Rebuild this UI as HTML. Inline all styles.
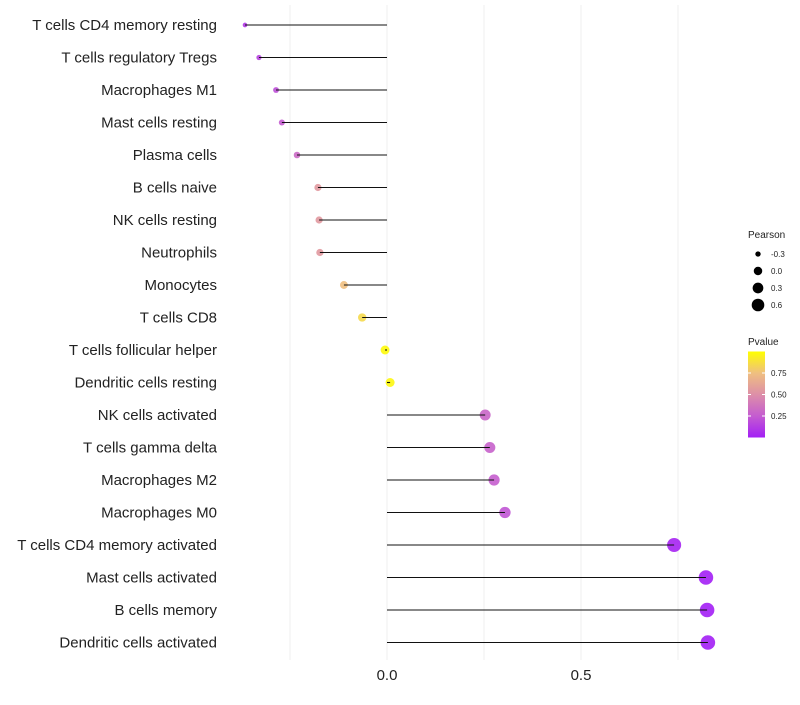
<!DOCTYPE html>
<html><head><meta charset="utf-8"><style>
body{margin:0;background:#fff}
svg{font-family:"Liberation Sans",sans-serif}
</style></head><body>
<svg id="chart" width="800" height="700">
<g id="grid"></g><g id="marks"></g><g id="labels"></g><g id="legend"></g>
</svg>
<script>
const categories=["T cells CD4 memory resting","T cells regulatory  Tregs","Macrophages M1","Mast cells resting","Plasma cells","B cells naive","NK cells resting","Neutrophils","Monocytes","T cells CD8","T cells follicular helper","Dendritic cells resting","NK cells activated","T cells gamma delta","Macrophages M2","Macrophages M0","T cells CD4 memory activated","Mast cells activated","B cells memory","Dendritic cells activated"];
const pearson=[-0.366,-0.330,-0.286,-0.271,-0.232,-0.178,-0.175,-0.173,-0.111,-0.064,-0.005,0.008,0.253,0.265,0.276,0.304,0.740,0.822,0.825,0.827];
const pvalues=[0.10,0.15,0.20,0.25,0.32,0.55,0.55,0.55,0.75,0.85,0.98,0.97,0.30,0.28,0.26,0.22,0.02,0.0,0.0,0.0];
const xTicks=[0,0.5];
const xTickLabels=["0.0","0.5"];
const gridVals=[-0.25,0.25,0.75];
const sizeLegend=[-0.3,0,0.3,0.6];
const sizeLegendLabels=["-0.3","0.0","0.3","0.6"];
const pLegend=[0.25,0.5,0.75];
const pLegendLabels=["0.25","0.50","0.75"];

const NS="http://www.w3.org/2000/svg";
const x=v=>387+v*388;
const y=i=>25+i*32.5;
const r=v=>Math.sqrt(Math.max(3,20+40*v));
const stops=[[0,[163,31,245]],[0.25,[196,92,208]],[0.5,[221,143,168]],[0.75,[239,191,128]],[1,[255,255,0]]];
function col(p){for(let k=0;k<stops.length-1;k++){const a=stops[k],b=stops[k+1];if(p<=b[0]){const t=(p-a[0])/(b[0]-a[0]);return "rgb("+a[1].map((c,j)=>Math.round(c+(b[1][j]-c)*t)).join(",")+")";}}return "rgb(255,255,0)";}
function mk(t,attrs,parent){const e=document.createElementNS(NS,t);for(const k in attrs)e.setAttribute(k,attrs[k]);parent.appendChild(e);return e;}
const G=document.getElementById("grid"),M=document.getElementById("marks"),L=document.getElementById("labels"),LG=document.getElementById("legend");
gridVals.concat(xTicks).forEach(v=>{const l=mk("line",{x1:x(v),x2:x(v),y1:5,y2:660,stroke:"#efefef","stroke-width":1},G);

});
xTicks.forEach((v,i)=>{const t=mk("text",{x:x(v),y:680,"text-anchor":"middle","font-size":15,fill:"#222"},L);t.textContent=xTickLabels[i];

});
categories.forEach((c,i)=>{
 const t=mk("text",{x:217,y:y(i)+5,"text-anchor":"end","font-size":15,fill:"#222"},L);t.textContent=c;
 
 
 const ci=mk("circle",{cx:x(pearson[i]),cy:y(i),r:r(pearson[i]),fill:col(pvalues[i]),"fill-opacity":0.9},M);
 
 
 const ln=mk("line",{x1:x(0),x2:x(pearson[i]),y1:y(i),y2:y(i),stroke:"#111","stroke-width":1.1},M);
 
 
});
let t=mk("text",{x:748,y:238,"font-size":10,fill:"#222"},LG);t.textContent="Pearson";


sizeLegend.forEach((v,i)=>{const c=mk("circle",{cx:758,cy:254+i*17,r:r(v)*0.95,fill:"#000"},LG);


const tt=mk("text",{x:771,y:257+i*17,"font-size":8,fill:"#222"},LG);tt.textContent=sizeLegendLabels[i];

});
t=mk("text",{x:748,y:345,"font-size":10,fill:"#222"},LG);t.textContent="Pvalue";


const defs=mk("defs",{},LG);const gr=mk("linearGradient",{id:"pg",x1:0,y1:1,x2:0,y2:0},defs);
stops.forEach(s=>mk("stop",{offset:s[0],"stop-color":col(s[0])},gr));
const bar=mk("rect",{x:748,y:351.5,width:17,height:86,fill:"url(#pg)"},LG);


const py=p=>437.5-p*86;
pLegend.forEach((p,i)=>{mk("line",{x1:748,x2:751,y1:py(p),y2:py(p),stroke:"#fff"},LG);mk("line",{x1:762,x2:765,y1:py(p),y2:py(p),stroke:"#fff"},LG);
const tt=mk("text",{x:771,y:py(p)+3,"font-size":8,fill:"#222"},LG);tt.textContent=pLegendLabels[i];

});
</script>
</body></html>
